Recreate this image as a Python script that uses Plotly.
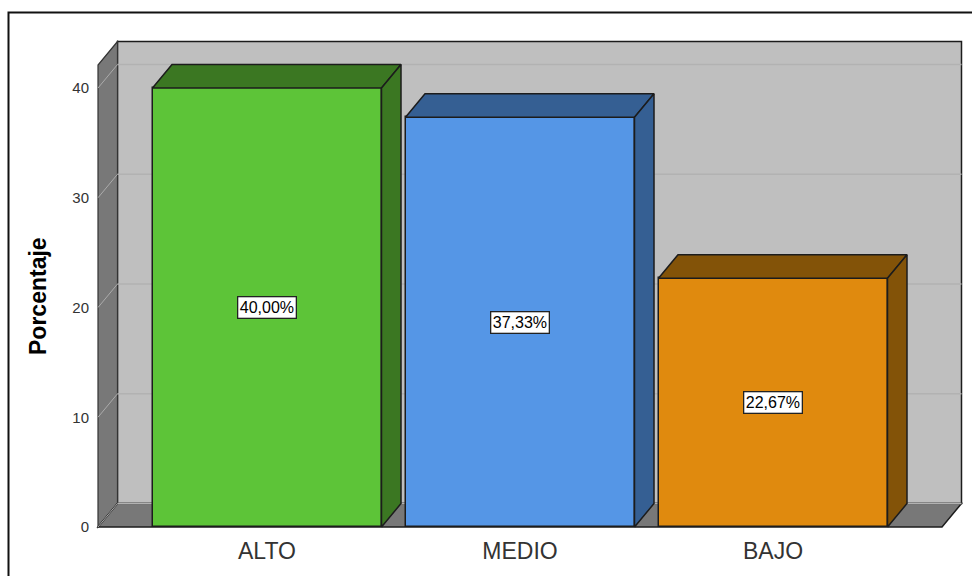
import plotly.graph_objects as go

categories = ["ALTO", "MEDIO", "BAJO"]
percentages = [40.00, 37.33, 22.67]
percent_labels = ["40,00%", "37,33%", "22,67%"]
front_colors = ["#5DC438", "#5596E6", "#E08A0E"]
top_colors = ["#3B7722", "#355F93", "#835308"]
side_colors = ["#3B7722", "#355F93", "#835308"]
y_ticks = [0, 10, 20, 30, 40]

W, H = 972, 576
# pixel frame of the subplot
px_left, px_right, px_top, px_bottom = 96.0, 964.0, 39.0, 529.0
px_per_cat, px_per_val = 253.0, 10.975
px_cat0, px_zero = 267.0, 527.0

x_range = [(px_left - px_cat0) / px_per_cat, (px_right - px_cat0) / px_per_cat]
y_range = [(px_zero - px_bottom) / px_per_val, (px_zero - px_top) / px_per_val]

bar_w = 229.0 / px_per_cat
dx = 19.5 / px_per_cat          # depth of the pseudo 3D
dy = 23.5 / px_per_val
wall_l = (98.0 - px_cat0) / px_per_cat
wall_r = (961.5 - px_cat0 - 19.5) / px_per_cat   # front right corner of floor
wall_t = (527.0 - 65.0) / px_per_val             # front top of wall

EDGE = "#1c1c1c"
positions = list(range(len(categories)))


def poly(pts):
    return "M " + " L ".join(f"{a},{b}" for a, b in pts) + " Z"


def shape(pts, fill, line=EDGE, width=1.5):
    return dict(type="path", path=poly(pts), xref="x", yref="y", layer="below",
                fillcolor=fill, line=dict(color=line, width=width))


plot_w = px_right - px_left
plot_h = px_bottom - px_top


def paper_x(px):
    return (px - px_left) / plot_w


def paper_y(px):
    return (px_bottom - px) / plot_h


shapes = [
    # outer frame of the picture, running off the right and bottom edges
    dict(type="rect", xref="paper", yref="paper", x0=paper_x(8.5), x1=paper_x(990),
         y0=paper_y(600), y1=paper_y(12.5), line=dict(color="#111111", width=2),
         fillcolor="rgba(0,0,0,0)", layer="below"),
    # back wall
    shape([(wall_l + dx, dy), (wall_r + dx, dy), (wall_r + dx, wall_t + dy),
           (wall_l + dx, wall_t + dy)], "#BFBFBF"),
    # left wall
    shape([(wall_l, 0), (wall_l + dx, dy), (wall_l + dx, wall_t + dy),
           (wall_l, wall_t)], "#787878", line="#333333", width=1.2),
    # floor
    shape([(wall_l, 0), (wall_r, 0), (wall_r + dx, dy), (wall_l + dx, dy)], "#787878"),
]
for t in y_ticks:
    shapes.append(dict(type="line", xref="x", yref="y", layer="below",
                       x0=wall_l + dx, x1=wall_r + dx, y0=t + dy, y1=t + dy,
                       line=dict(color="#B2B2B2", width=1.5)))
    shapes.append(dict(type="line", xref="x", yref="y", layer="below",
                       x0=wall_l, x1=wall_l + dx, y0=t, y1=t + dy,
                       line=dict(color="#ABABAB", width=1)))

fig = go.Figure()

# front faces
fig.add_trace(go.Bar(
    x=positions, y=percentages, width=bar_w,
    marker=dict(color=front_colors, line=dict(color=EDGE, width=1.5)),
    hoverinfo="skip", showlegend=False,
))

# top and side faces derived from the values
for p, v, tc, sc in zip(positions, percentages, top_colors, side_colors):
    l, r = p - bar_w / 2, p + bar_w / 2
    fig.add_trace(go.Scatter(
        x=[l, r, r + dx, l + dx, l], y=[v, v, v + dy, v + dy, v],
        mode="lines", fill="toself", fillcolor=tc,
        line=dict(color=EDGE, width=1.5), hoverinfo="skip", showlegend=False))
    fig.add_trace(go.Scatter(
        x=[r, r + dx, r + dx, r, r], y=[0, dy, v + dy, v, 0],
        mode="lines", fill="toself", fillcolor=sc,
        line=dict(color=EDGE, width=1.5), hoverinfo="skip", showlegend=False))

annotations = [
    dict(x=p, y=v / 2, xref="x", yref="y", text=t, showarrow=False,
         font=dict(family="Liberation Sans", size=16, color="#000000"),
         bgcolor="#FFFFFF", bordercolor="#222222", borderwidth=1.3, borderpad=1.5)
    for p, v, t in zip(positions, percentages, percent_labels)
]
annotations.append(dict(
    x=paper_x(38), y=paper_y(296), xref="paper", yref="paper", text="<b>Porcentaje</b>",
    xanchor="center", yanchor="middle",
    textangle=-90, showarrow=False,
    font=dict(family="Liberation Sans", size=23, color="#000000")))

fig.update_layout(
    width=W, height=H, autosize=False,
    margin=dict(l=px_left, r=W - px_right, t=px_top, b=H - px_bottom, pad=0),
    paper_bgcolor="#FFFFFF", plot_bgcolor="rgba(0,0,0,0)",
    bargap=0, showlegend=False,
    shapes=shapes, annotations=annotations,
    xaxis=dict(range=x_range, automargin=False,
               tickmode="array", tickvals=positions, ticktext=categories,
               showgrid=False, zeroline=False, showline=False,
               ticks="outside", ticklen=1, tickcolor="rgba(0,0,0,0)",
               tickfont=dict(family="Liberation Sans", size=23, color="#333333")),
    yaxis=dict(range=y_range, automargin=False,
               tickmode="array", tickvals=y_ticks,
               showgrid=False, zeroline=False, showline=False,
               ticks="outside", ticklen=3, tickcolor="rgba(0,0,0,0)",
               tickfont=dict(family="Liberation Sans", size=15, color="#333333")),
)

fig.write_html("out.html", config={"displayModeBar": False},
               post_script="document.body.style.margin='0';document.body.style.overflow='hidden';")
